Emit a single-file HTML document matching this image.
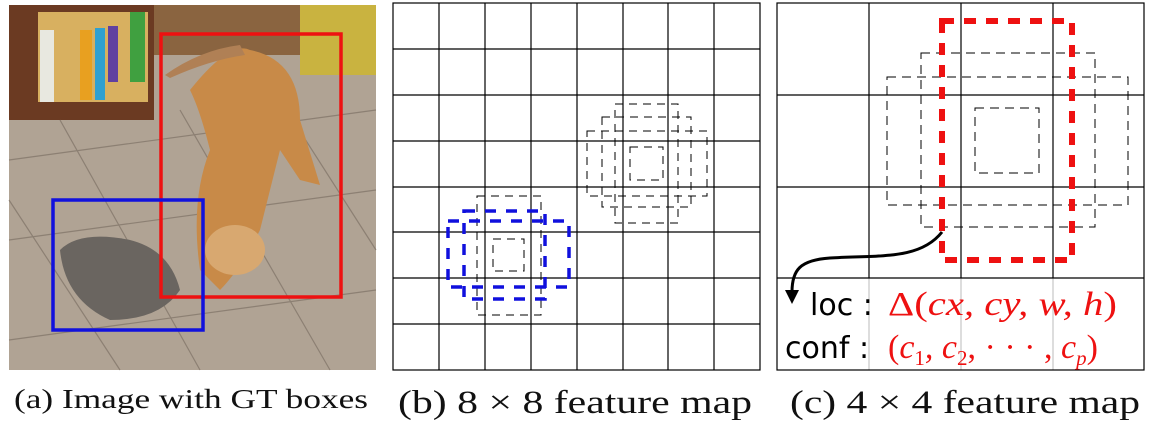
<!DOCTYPE html>
<html><head><meta charset="utf-8"><style>
body{margin:0;background:#fff;width:1152px;height:432px;overflow:hidden}
svg{display:block}
</style></head><body>
<svg width="1152" height="432" viewBox="0 0 1152 432" xmlns="http://www.w3.org/2000/svg">
<!-- panel a photo approximation -->
<rect x="9" y="5" width="367" height="365" fill="#b0a394"/>
<rect x="150" y="5" width="150" height="50" fill="#8a6440"/>
<rect x="300" y="5" width="76" height="70" fill="#c9b340"/>
<rect x="9" y="5" width="145" height="115" fill="#6b3a22"/>
<rect x="38" y="12" width="110" height="90" fill="#d8b060"/>
<rect x="40" y="30" width="14" height="72" fill="#e8e8e0"/>
<rect x="80" y="30" width="12" height="70" fill="#e8a020"/>
<rect x="95" y="28" width="10" height="72" fill="#30a0d0"/>
<rect x="108" y="26" width="10" height="56" fill="#6040a0"/>
<rect x="130" y="12" width="15" height="70" fill="#40a040"/>
<g stroke="#7d7165" stroke-width="1.2" fill="none" opacity="0.7">
<path d="M9 160 L376 110 M9 240 L376 190 M9 340 L376 290 M60 120 L200 370 M180 110 L330 370 M9 200 L120 370 M280 100 L376 250"/>
</g>
<path d="M190 90 Q230 40 250 50 Q300 60 300 120 L320 185 L300 180 L280 150 L260 230 Q240 270 220 290 L200 270 Q190 200 210 150 Q200 110 190 90Z" fill="#c88a48"/>
<path d="M165 75 Q200 50 240 45 L245 55 Q210 60 170 78Z" fill="#b08055"/>
<ellipse cx="235" cy="250" rx="30" ry="25" fill="#d8a870"/>
<path d="M60 250 Q80 230 130 240 Q170 250 180 290 Q160 320 110 320 Q65 300 60 250Z" fill="#6a6560"/>
<rect x="161" y="34" width="180" height="263" fill="none" stroke="#ee1111" stroke-width="3.5"/>
<rect x="53" y="200" width="150" height="130" fill="none" stroke="#1111dd" stroke-width="3.5"/>
<text x="14" y="408" font-family="Liberation Serif, serif" font-size="27" textLength="354" lengthAdjust="spacingAndGlyphs" fill="#111">(a) Image with GT boxes</text>

<!-- panel b -->
<g stroke="#000" stroke-width="1.2" fill="none">
<rect x="393" y="3" width="367" height="367"/>
<path d="M439 3V370M485 3V370M531 3V370M577 3V370M623 3V370M668 3V370M714 3V370M393 49H760M393 95H760M393 141H760M393 187H760M393 232H760M393 278H760M393 324H760"/>
</g>
<g stroke="#000" stroke-width="1.3" fill="none" stroke-dasharray="8 6" shape-rendering="crispEdges">
<rect x="493" y="239" width="31" height="32"/>
<rect x="477" y="196" width="64" height="119"/>
<rect x="630" y="147" width="33" height="33"/>
<rect x="615" y="104" width="63" height="119"/>
<rect x="602" y="117" width="89" height="90"/>
<rect x="587" y="131" width="120" height="65"/>
</g>
<g stroke="#1010dd" stroke-width="3.5" fill="none" stroke-dasharray="11 10">
<rect x="448" y="221" width="121" height="66"/>
<rect x="464" y="211" width="81" height="88"/>
</g>
<text x="398" y="413" font-family="Liberation Serif, serif" font-size="33" textLength="354" lengthAdjust="spacingAndGlyphs" fill="#111">(b) 8 × 8 feature map</text>

<!-- panel c -->
<g stroke="#bbb" stroke-width="1" fill="none">
<path d="M869 278V370M961 278V370M1053 278V370"/>
</g>
<g stroke="#000" stroke-width="1.2" fill="none">
<rect x="777" y="3" width="367" height="367"/>
<path d="M869 3V278M961 3V278M1053 3V278M777 95H1144M777 187H1144M777 278H1144"/>
</g>
<g stroke="#000" stroke-width="1.3" fill="none" stroke-dasharray="9 6" shape-rendering="crispEdges">
<rect x="975" y="108" width="64" height="65"/>
<rect x="887" y="77" width="241" height="128"/>
<rect x="921" y="53" width="174" height="174"/>
</g>
<rect x="942" y="21" width="130" height="239" fill="none" stroke="#ee1111" stroke-width="6" stroke-dasharray="12 10"/>
<path d="M942 232 C920 260 880 255 830 258 C800 260 792 270 792 292" fill="none" stroke="#000" stroke-width="3"/>
<path d="M785 290 L799 290 L792 304Z" fill="#000"/>
<text x="810" y="315" font-family="DejaVu Sans, sans-serif" font-size="30" fill="#000">loc :</text>
<text x="888" y="315" font-family="Liberation Serif, serif" font-style="italic" font-size="34" textLength="229" lengthAdjust="spacingAndGlyphs" fill="#ee1111"><tspan font-style="normal">Δ(</tspan>cx, cy, w, h<tspan font-style="normal">)</tspan></text>
<text x="785" y="358" font-family="DejaVu Sans, sans-serif" font-size="30" fill="#000">conf :</text>
<text x="888" y="358" font-family="Liberation Serif, serif" font-style="italic" font-size="34" fill="#ee1111"><tspan font-style="normal">(</tspan>c<tspan font-size="21" dy="7" font-style="normal">1</tspan><tspan dy="-7">, c</tspan><tspan font-size="21" dy="7" font-style="normal">2</tspan><tspan dy="-7" font-style="normal">, · · · , </tspan>c<tspan font-size="21" dy="7">p</tspan><tspan dy="-7" font-style="normal">)</tspan></text>
<text x="790" y="413" font-family="Liberation Serif, serif" font-size="33" textLength="350" lengthAdjust="spacingAndGlyphs" fill="#111">(c) 4 × 4 feature map</text>
</svg>
</body></html>
